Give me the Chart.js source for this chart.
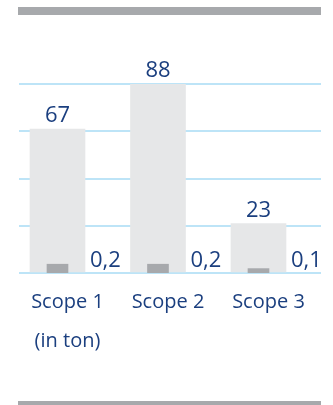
<!DOCTYPE html>
<html>
<head>
<meta charset="utf-8">
<script src="https://cdn.jsdelivr.net/npm/chart.js@4/dist/chart.umd.min.js"></script>
<style>
html,body{margin:0;padding:0;background:#fff;}
#wrap{position:relative;width:333px;height:405px;overflow:hidden;}
.rule{position:absolute;left:18px;width:303px;height:8px;background:#a7a9ac;}
canvas{position:absolute;left:0;top:0;}
</style>
</head>
<body>
<div id="wrap">
  <canvas id="c" width="333" height="405"></canvas>
  <div class="rule" style="top:7px"></div>
  <div class="rule" style="top:401px"></div>
</div>
<script>
// Data
const categories = ['Scope 1', 'Scope 2', 'Scope 3'];
const unitNote = '(in ton)';
const totalValues = [67, 88, 23];
const smallValues = [0.2, 0.2, 0.1];

const NAVY = '#1b3f7f';
const fmt = v => String(v).replace('.', ',');

const valueLabels = {
  id: 'valueLabels',
  afterDatasetsDraw(chart) {
    const ctx = chart.ctx;
    const big = chart.getDatasetMeta(0).data;
    ctx.save();
    ctx.fillStyle = NAVY;
    ctx.font = '22px "Open Sans"';
    ctx.textBaseline = 'alphabetic';
    big.forEach((bar, i) => {
      ctx.textAlign = 'center';
      ctx.fillText(fmt(totalValues[i]), bar.x, bar.y - 7);
      ctx.textAlign = 'left';
      ctx.fillText(fmt(smallValues[i]), bar.x + bar.width / 2 + 5, bar.base - 5);
    });
    ctx.restore();
  }
};

const yMax = Math.max(...totalValues);

new Chart(document.getElementById('c'), {
  type: 'bar',
  data: {
    datasets: [
      {
        label: 'Totaal',
        data: totalValues.map((v, i) => ({ x: i + 1, y: v })),
        backgroundColor: '#e6e7e8',
        barThickness: 55,
        stack: 'a',
        yAxisID: 'y',
        order: 2
      },
      {
        label: 'Deel',
        data: smallValues.map((v, i) => ({ x: i + 1, y: v })),
        backgroundColor: '#a7a9ac',
        barThickness: 21,
        stack: 'a',
        yAxisID: 'y2',
        order: 1
      }
    ]
  },
  options: {
    responsive: false,
    animation: false,
    layout: { padding: { left: 19, right: 12, top: 84, bottom: 34 } },
    plugins: { legend: { display: false }, tooltip: { enabled: false } },
    scales: {
      x: {
        type: 'linear',
        offset: false,
        min: 0.617,
        max: 3.622,
        grid: { display: false, offset: false, drawTicks: false },
        border: { display: false },
        ticks: {
          stepSize: 1,
          includeBounds: false,
          autoSkip: false,
          maxRotation: 0,
          labelOffset: 10,
          padding: 10,
          color: NAVY,
          font: { family: '"Open Sans"', size: 20, lineHeight: 1.95 },
          callback: v => Number.isInteger(v) && v >= 1 && v <= categories.length
            ? (v === 1 ? [categories[0], unitNote] : categories[v - 1])
            : ''
        }
      },
      y: {
        min: 0,
        max: yMax,
        stacked: false,
        ticks: { display: false, stepSize: yMax / 4 },
        grid: { color: '#bde4f7', lineWidth: 2, drawTicks: false },
        border: { display: false }
      },
      y2: {
        display: false,
        min: 0,
        max: 4.3,
        stacked: false
      }
    }
  },
  plugins: [valueLabels]
});
</script>
</body>
</html>
